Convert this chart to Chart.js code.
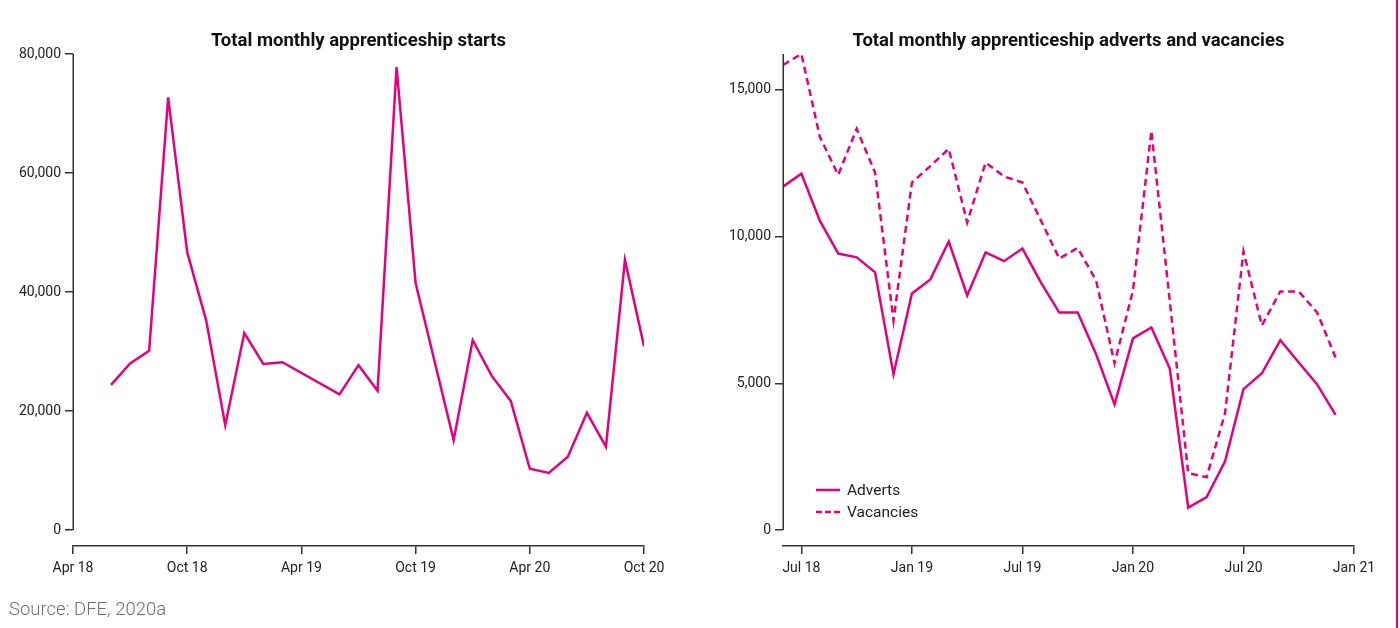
<!DOCTYPE html>
<html>
<head>
<meta charset="utf-8">
<script src="https://cdn.jsdelivr.net/npm/chart.js@4/dist/chart.umd.min.js"></script>
<style>
  body { margin: 0; width: 1400px; height: 628px; background: #fff; position: relative; overflow: hidden; font-family: Roboto, sans-serif; }
  #startsChart { position: absolute; left: 0; top: 0; }
  #advertsChart { position: absolute; left: 700px; top: 0; }
  #pageEdge { position: absolute; left: 1396px; top: 0; width: 1.5px; height: 628px; background: #e5007d; }
  #source { position: absolute; left: 9px; top: 598px; font-size: 18.5px; font-weight: 300; color: #6e6e6e; }
  #legend { position: absolute; left: 816px; top: 479px; font-size: 15.5px; color: #222; }
  #legend div { height: 22px; display: flex; align-items: center; }
  #legend svg { margin-right: 7px; }
</style>
</head>
<body>
<canvas id="startsChart" width="717" height="628"></canvas>
<canvas id="advertsChart" width="700" height="628"></canvas>
<div id="legend"></div>
<div id="pageEdge"></div>
<div id="source">Source: DFE, 2020a</div>
<script>
const PINK = "#e5007d";
const AXIS = "#333";

// Mois au format AAAA-MM
const startsMonths = [
  "2018-06", "2018-07", "2018-08", "2018-09", "2018-10", "2018-11", "2018-12",
  "2019-01", "2019-02", "2019-03", "2019-06", "2019-07", "2019-08", "2019-09",
  "2019-10", "2019-12", "2020-01", "2020-02", "2020-03", "2020-04", "2020-05",
  "2020-06", "2020-07", "2020-08", "2020-09", "2020-10"
];
const startsValues = [
  24400, 28000, 30100, 72700, 46700, 35200, 17600,
  33100, 27900, 28200, 22800, 27700, 23400, 77800,
  41500, 15100, 31900, 25900, 21700, 10300, 9600,
  12300, 19700, 14000, 45400, 30900
];
const startsTickMonths = ["2018-04", "2018-10", "2019-04", "2019-10", "2020-04", "2020-10"];
const startsTickLabels = ["Apr 18", "Oct 18", "Apr 19", "Oct 19", "Apr 20", "Oct 20"];
const startsYTicks = [0, 20000, 40000, 60000, 80000];

const advertsMonths = [
  "2018-06", "2018-07", "2018-08", "2018-09", "2018-10", "2018-11", "2018-12",
  "2019-01", "2019-02", "2019-03", "2019-04", "2019-05", "2019-06",
  "2019-07", "2019-08", "2019-09", "2019-10", "2019-11", "2019-12",
  "2020-01", "2020-02", "2020-03", "2020-04", "2020-05", "2020-06",
  "2020-07", "2020-08", "2020-09", "2020-10", "2020-11", "2020-12"
];
const advertsValues = [
  11700, 12140, 10540, 9420, 9290, 8780, 5310,
  8060, 8540, 9830, 7990, 9460, 9160,
  9590, 8440, 7410, 7410, 5990, 4280,
  6530, 6900, 5500, 760, 1120, 2340,
  4800, 5340, 6470, 5710, 4960, 3920
];
const vacanciesValues = [
  15850, 16220, 13400, 12100, 13670, 12180, 7140,
  11840, 12400, 12990, 10480, 12520, 12050,
  11840, 10550, 9250, 9610, 8500, 5680,
  8160, 13600, 7800, 1940, 1800, 3980,
  9490, 6970, 8130, 8130, 7410, 5880
];
const advertsTickMonths = ["2018-07", "2019-01", "2019-07", "2020-01", "2020-07", "2021-01"];
const advertsTickLabels = ["Jul 18", "Jan 19", "Jul 19", "Jan 20", "Jul 20", "Jan 21"];
const advertsYTicks = [0, 5000, 10000, 15000];

function monthIndex(m) {
  const [y, mo] = m.split("-").map(Number);
  return (y - 2018) * 12 + (mo - 1);
}
const toPoints = (months, values) => months.map((m, i) => ({ x: monthIndex(m), y: values[i] }));

// Axe Y "détaché" de l'axe X (écart de 16px comme dans l'original)
const Y_GAP = 16;
const PLOT_H = 492;

// trait de l'axe Y (de 0 jusqu'en haut) + titre centré sur la zone du graphique
const axisAndTitle = {
  id: "axisAndTitle",
  afterDraw(chart, args, opts) {
    const { ctx, chartArea, scales } = chart;
    const x = Math.round(chartArea.left) + 0.25;
    ctx.save();
    ctx.strokeStyle = AXIS;
    ctx.lineWidth = 1.5;
    ctx.beginPath();
    ctx.moveTo(x, chartArea.top);
    ctx.lineTo(x, scales.y.getPixelForValue(0));
    ctx.stroke();

    ctx.fillStyle = "#111";
    ctx.font = "bold 18.5px Roboto";
    ctx.textAlign = "center";
    ctx.textBaseline = "middle";
    ctx.fillText(opts.text, (chartArea.left + chartArea.right) / 2, 41);
    ctx.restore();
  },
};

function buildOptions(cfg) {
  const yMax = cfg.yMax;
  return {
    responsive: false,
    animation: false,
    devicePixelRatio: 1,
    layout: { padding: { left: 0, right: cfg.right, top: 54, bottom: 42 } },
    plugins: {
      legend: { display: false },
      tooltip: { enabled: false },
      title: { display: false },
      axisAndTitle: { text: cfg.title },
    },
    scales: {
      x: {
        type: "linear",
        min: monthIndex(cfg.xMin),
        max: monthIndex(cfg.xMax),
        afterBuildTicks: (s) => { s.ticks = cfg.tickMonths.map((m) => ({ value: monthIndex(m) })); },
        afterFit: (s) => { s.height = 40; },
        ticks: {
          autoSkip: false,
          maxRotation: 0,
          padding: 6,
          color: "#222",
          font: { family: "Roboto", size: 14 },
          callback: (v) => cfg.tickLabels[cfg.tickMonths.findIndex((m) => monthIndex(m) === v)],
        },
        grid: { drawOnChartArea: false, tickLength: 8, color: AXIS, lineWidth: 1.5 },
        border: { display: true, color: AXIS, width: 1.5 },
      },
      y: {
        min: -yMax * Y_GAP / (PLOT_H - Y_GAP),
        max: yMax,
        afterBuildTicks: (s) => { s.ticks = cfg.yTicks.map((v) => ({ value: v })); },
        afterFit: (s) => { s.width = cfg.left; },
        ticks: {
          padding: 4,
          color: "#222",
          font: { family: "Roboto", size: 14 },
          callback: (v) => v.toLocaleString("en-GB"),
        },
        grid: { drawOnChartArea: false, tickLength: 8, color: AXIS, lineWidth: 1.5 },
        border: { display: false },
      },
    },
  };
}

new Chart(document.getElementById("startsChart"), {
  type: "line",
  data: {
    datasets: [{
      label: "Starts",
      data: toPoints(startsMonths, startsValues),
      borderColor: PINK,
      borderWidth: 2.5,
      pointRadius: 0,
      tension: 0,
    }],
  },
  options: buildOptions({
    title: "Total monthly apprenticeship starts",
    left: 73,
    right: 73,
    xMin: "2018-04",
    xMax: "2020-10",
    tickMonths: startsTickMonths,
    tickLabels: startsTickLabels,
    yTicks: startsYTicks,
    yMax: 80000,
  }),
  plugins: [axisAndTitle],
});

const advertsChart = new Chart(document.getElementById("advertsChart"), {
  type: "line",
  data: {
    datasets: [
      {
        label: "Adverts",
        data: toPoints(advertsMonths, advertsValues),
        borderColor: PINK,
        borderWidth: 2.5,
        pointRadius: 0,
        tension: 0,
      },
      {
        label: "Vacancies",
        data: toPoints(advertsMonths, vacanciesValues),
        borderColor: PINK,
        borderWidth: 2.5,
        borderDash: [7, 4.5],
        pointRadius: 0,
        tension: 0,
      },
    ],
  },
  options: buildOptions({
    title: "Total monthly apprenticeship adverts and vacancies",
    left: 83,
    right: 46,
    xMin: "2018-06",
    xMax: "2021-01",
    tickMonths: advertsTickMonths,
    tickLabels: advertsTickLabels,
    yTicks: advertsYTicks,
    yMax: Math.max(...vacanciesValues),
  }),
  plugins: [axisAndTitle],
});

// Légende HTML (traits plein / pointillé)
const legendEl = document.getElementById("legend");
advertsChart.data.datasets.forEach((ds) => {
  const row = document.createElement("div");
  const dash = ds.borderDash ? 'stroke-dasharray="6 3"' : "";
  row.innerHTML =
    `<svg width="24" height="4"><line x1="0" y1="2" x2="24" y2="2" stroke="${ds.borderColor}" stroke-width="2.5" ${dash}/></svg>` +
    `<span>${ds.label}</span>`;
  legendEl.appendChild(row);
});
</script>
</body>
</html>
